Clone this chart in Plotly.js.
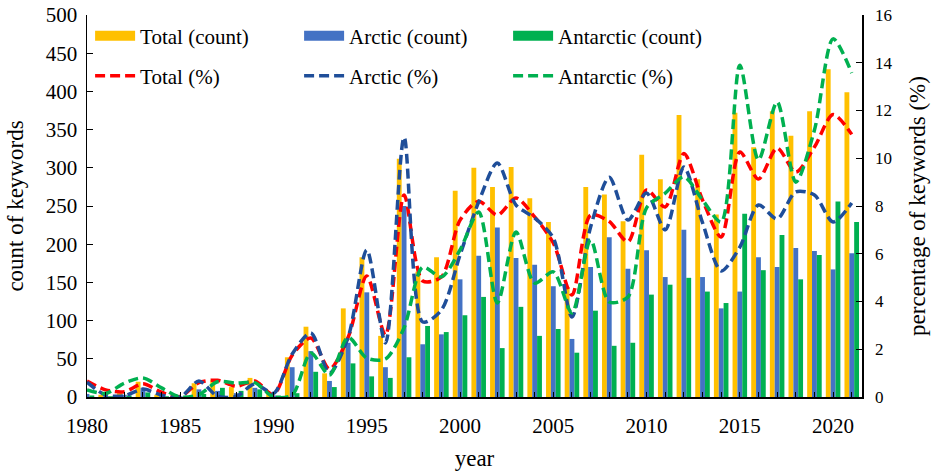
<!DOCTYPE html>
<html>
<head>
<meta charset="utf-8">
<script src="https://cdn.plot.ly/plotly-3.0.1.min.js"></script>
<style>
  html, body { margin: 0; padding: 0; background: #fff; }
  #chart { width: 935px; height: 475px; }
</style>
</head>
<body>
<div id="chart"></div>
<script>
const years = [];
for (let y = 1980; y <= 2021; y++) years.push(y);

const totalCount = [5, 3, 5, 20, 3, 2, 18, 22, 13, 25, 5,
  52, 92, 31, 116, 183, 80, 312, 164, 183, 270,
  300, 275, 301, 260, 229, 144, 275, 265, 230, 317,
  285, 369, 285, 239, 372, 327, 374, 342, 374, 429, 399];
const arcticCount = [4, 2, 3, 12, 2, 1, 10, 8, 5, 12, 2,
  39, 60, 21, 71, 137, 39, 250, 69, 82, 154,
  185, 222, 182, 173, 145, 76, 170, 209, 168, 192,
  157, 219, 157, 116, 138, 183, 170, 195, 191, 167, 188];
const antarcticCount = [2, 1, 2, 6, 1, 0, 4, 12, 8, 10, 2,
  5, 33, 13, 44, 27, 25, 52, 93, 85, 107,
  131, 64, 118, 80, 89, 58, 113, 67, 71, 134,
  147, 156, 138, 123, 240, 166, 212, 154, 186, 256, 229];

const totalPct = [0.67, 0.3, 0.22, 0.55, 0.2, 0.02, 0.6, 0.7, 0.45, 0.67, 0.1,
  1.75, 2.47, 1.17, 2.5, 5.07, 2.6, 8.46, 4.86, 5.03, 7.41,
  8.2, 7.62, 8.33, 7.54, 6.45, 4.27, 7.62, 7.35, 6.5, 8.67,
  7.96, 10.2, 8.25, 6.7, 10.26, 9.13, 10.43, 9.42, 10.47, 11.83, 11.0];
const arcticPct = [0.62, 0.08, 0.05, 0.33, 0.08, 0.0, 0.67, 0.03, 0.02, 0.55, 0.15,
  1.8, 2.68, 1.0, 2.5, 6.16, 2.26, 10.88, 3.14, 3.64, 5.95,
  8.17, 9.8, 8.04, 7.5, 6.66, 3.35, 7.12, 9.2, 7.41, 8.54,
  7.0, 9.63, 7.3, 5.28, 6.28, 8.04, 7.46, 8.59, 8.46, 7.33, 8.13];
const antarcticPct = [0.3, 0.15, 0.58, 0.8, 0.38, 0.0, 0.1, 0.64, 0.58, 0.6, 0.0,
  0.08, 1.84, 0.92, 2.5, 1.63, 1.59, 2.9, 5.44, 5.03, 6.16,
  7.75, 3.94, 6.91, 4.77, 5.24, 3.52, 6.58, 3.98, 4.19, 7.92,
  8.54, 9.22, 8.25, 7.33, 13.9, 9.93, 12.36, 9.0, 11.18, 15.0, 13.57];

const FONT = 'Liberation Serif';
const ORANGE = '#FFC000';
const BLUE = '#4472C4';
const GREEN = '#00B050';

function bar(name, values, color) {
  return {
    type: 'bar', name: name, x: years, y: values,
    marker: { color: color }, showlegend: false, hoverinfo: 'x+y'
  };
}

// legend-only entries so the bar keys look like wide blocks
function barKey(name, color) {
  return {
    type: 'scatter', mode: 'lines', name: name, x: [null], y: [null],
    line: { color: color, width: 10 }, legend: 'legend'
  };
}

function pctLine(name, values, color) {
  return {
    type: 'scatter', mode: 'lines', name: name, x: years, y: values,
    yaxis: 'y2', legend: 'legend2',
    line: { color: color, width: 3.5, dash: '10px,5px', shape: 'spline', smoothing: 0.8 }
  };
}

const data = [
  bar('Total (count)', totalCount, ORANGE),
  bar('Arctic (count)', arcticCount, BLUE),
  bar('Antarctic (count)', antarcticCount, GREEN),
  barKey('Total (count)', ORANGE),
  barKey('Arctic (count)', BLUE),
  barKey('Antarctic (count)', GREEN),
  pctLine('Total (%)', totalPct, '#FF0000'),
  pctLine('Arctic (%)', arcticPct, '#1F4E99'),
  pctLine('Antarctic (%)', antarcticPct, GREEN)
];

const legendBase = {
  orientation: 'h', xanchor: 'left', yanchor: 'middle',
  x: 0.004, bgcolor: 'rgba(0,0,0,0)',
  font: { family: FONT, size: 21, color: '#000' },
  itemwidth: 40,
  entrywidth: 154, entrywidthmode: 'pixels', itemclick: false, itemdoubleclick: false
};

const layout = {
  width: 935, height: 475,
  margin: { l: 87, r: 73, t: 15, b: 78 },
  paper_bgcolor: '#fff', plot_bgcolor: '#fff',
  font: { family: FONT, size: 20, color: '#000' },
  barmode: 'group', bargap: 0.22, bargroupgap: 0,
  showlegend: true,
  legend: Object.assign({}, legendBase, { y: 0.945 }),
  legend2: Object.assign({}, legendBase, { y: 0.84 }),
  xaxis: {
    range: [1980, 2021.55], tick0: 1980, dtick: 5,
    showgrid: false, zeroline: false,
    showline: true, linecolor: '#000', linewidth: 1.5,
    ticks: 'inside', ticklen: 5, tickcolor: '#000',
    minor: { dtick: 1, ticks: 'inside', ticklen: 5, tickcolor: '#000' },
    tickfont: { family: FONT, size: 21 }, ticklabelstandoff: 9,
    title: { text: 'year', font: { family: FONT, size: 23 }, standoff: 13 }
  },
  yaxis: {
    range: [0, 500], dtick: 50,
    showgrid: false, zeroline: false,
    showline: true, linecolor: '#000', linewidth: 1.5,
    ticks: 'inside', ticklen: 6, tickcolor: '#000',
    tickfont: { family: FONT, size: 21 }, ticklabelstandoff: 4,
    title: { text: 'count of keywords', font: { family: FONT, size: 23 }, standoff: 15 }
  },
  yaxis2: {
    overlaying: 'y', side: 'right',
    range: [0, 16], dtick: 2,
    showgrid: false, zeroline: false,
    showline: true, linecolor: '#000', linewidth: 1.5,
    ticks: 'inside', ticklen: 6, tickcolor: '#000',
    tickfont: { family: FONT, size: 17 }, ticklabelstandoff: 8,
    title: { text: 'percentage of keywords (%)', font: { family: FONT, size: 23 }, standoff: 17 }
  }
};

Plotly.newPlot(document.getElementById('chart'), data, layout, {
  displayModeBar: false, staticPlot: true
});
</script>
</body>
</html>
